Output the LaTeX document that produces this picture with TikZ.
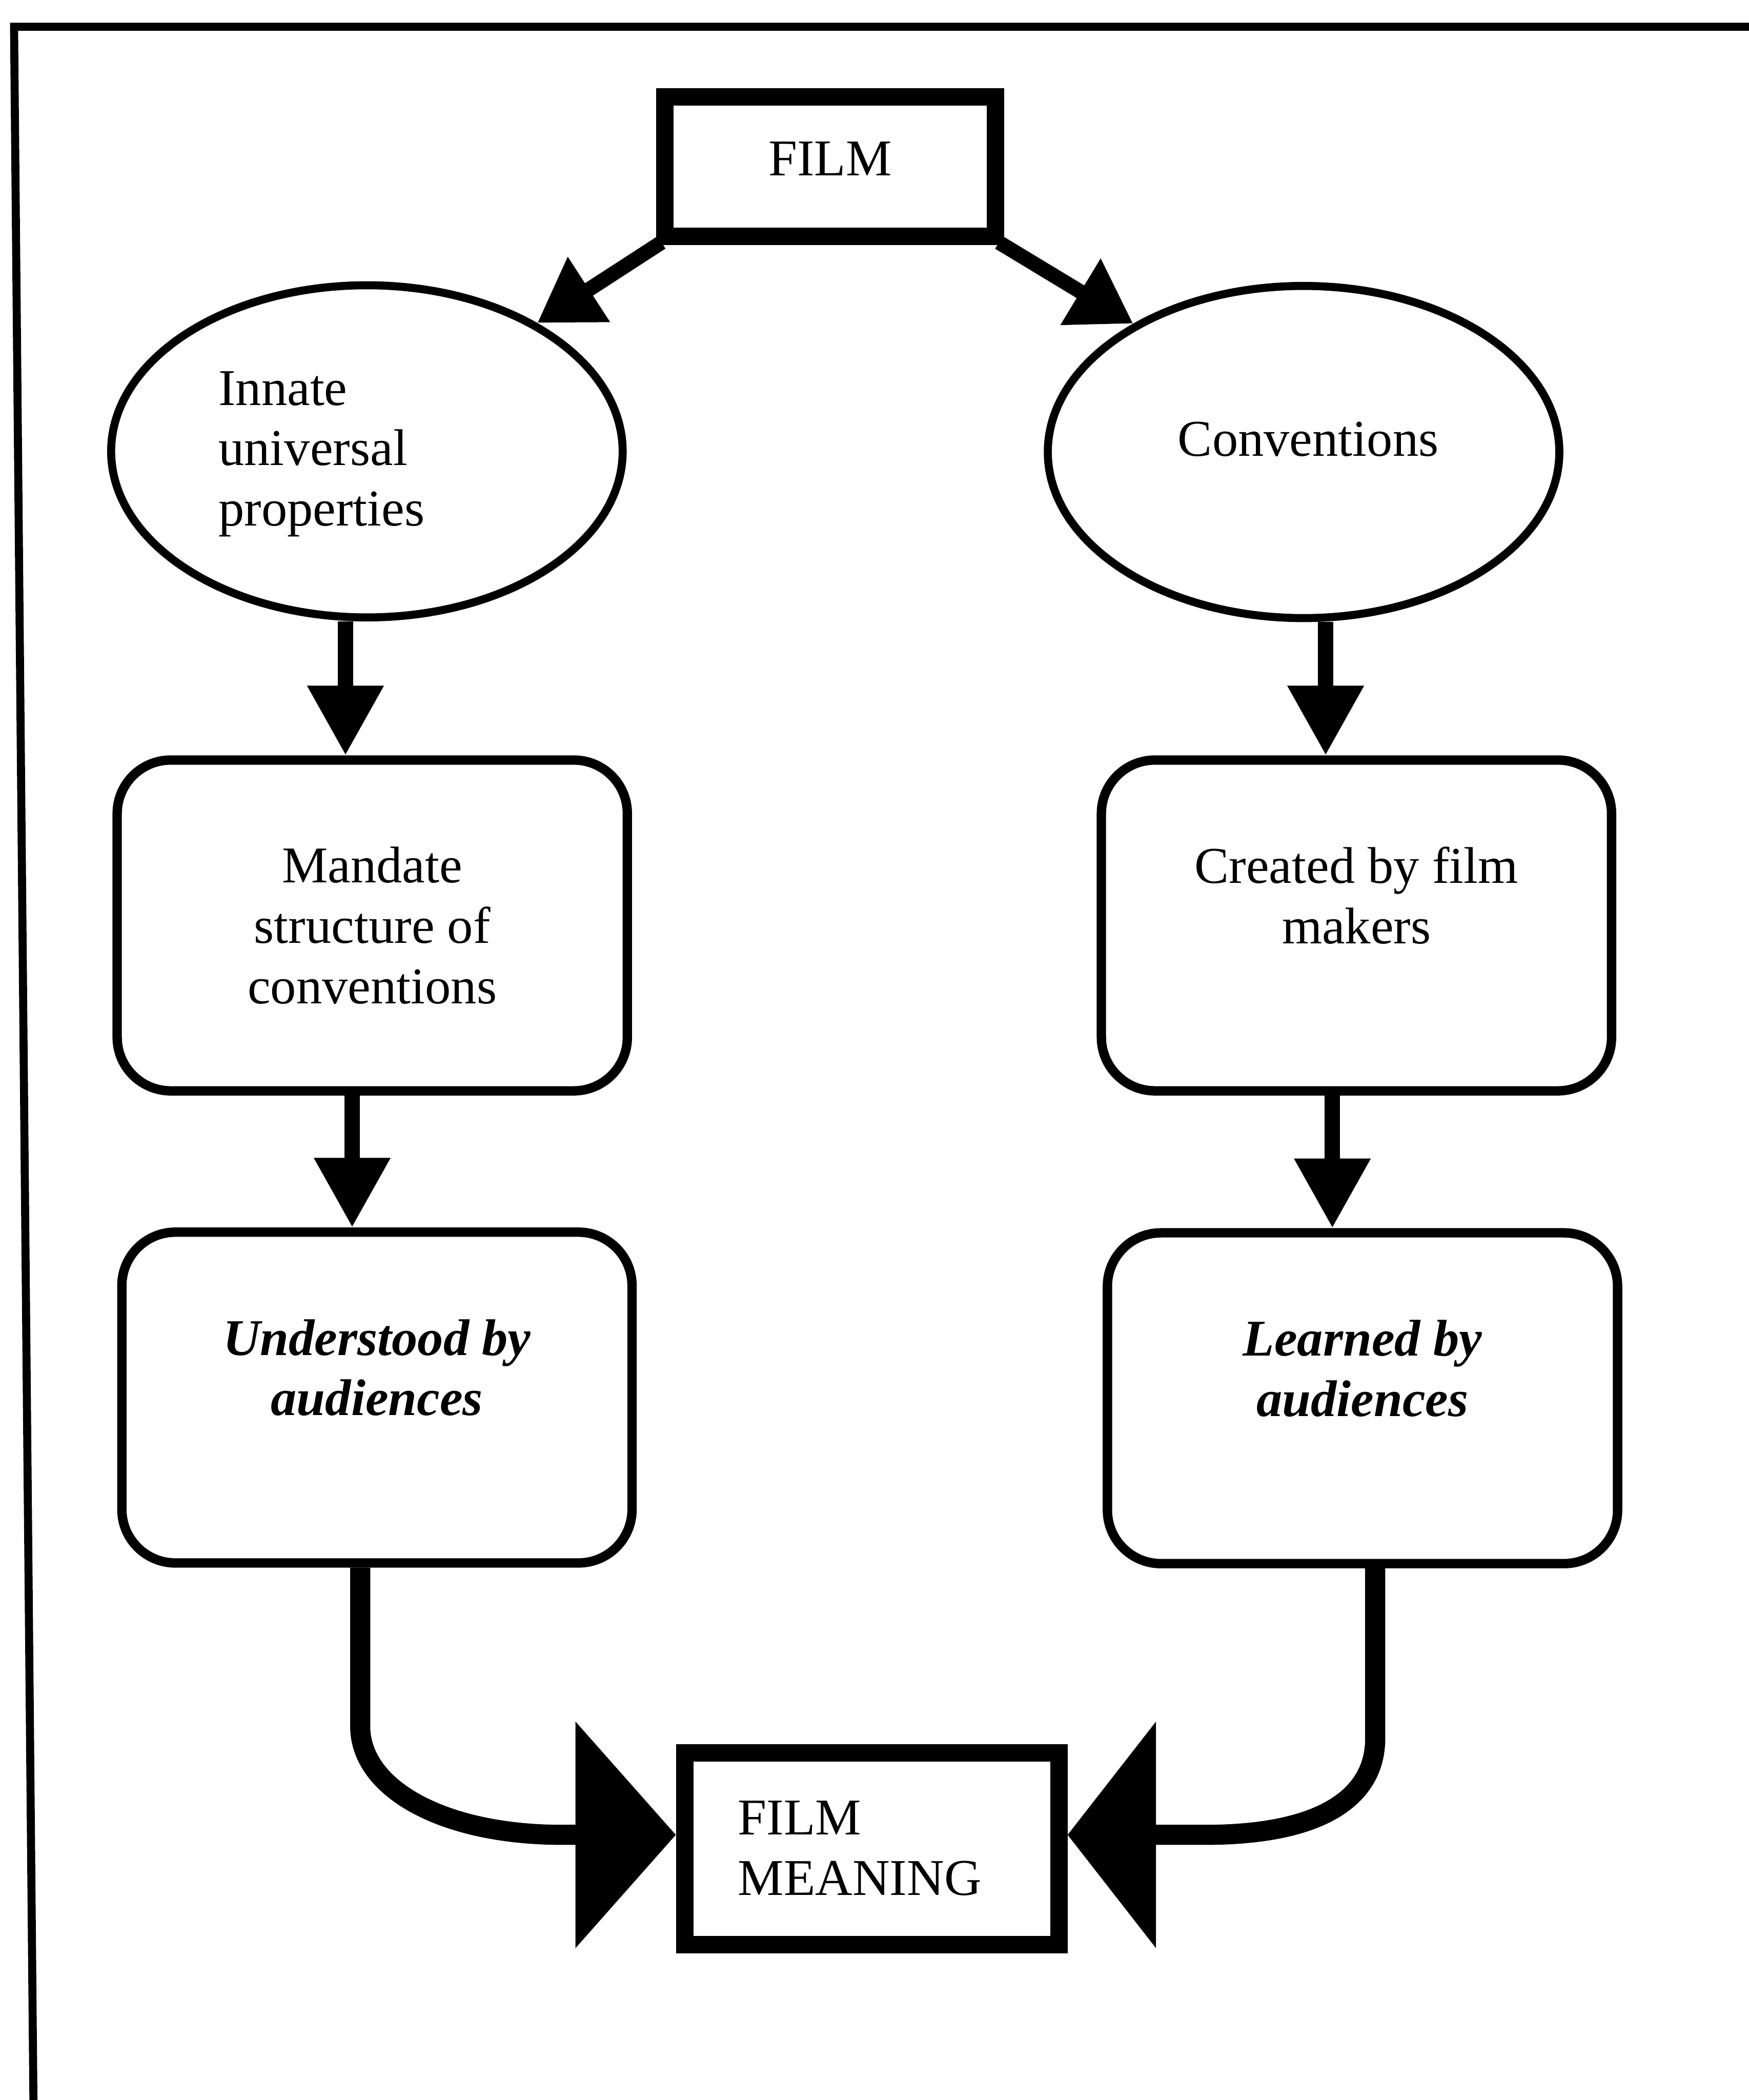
\documentclass[tikz,border=0pt]{standalone}
\usepackage{fontspec}
\setmainfont{Liberation Serif}
\usetikzlibrary{arrows.meta,shapes.geometric}
\newcommand{\diagfont}{\fontsize{38.5}{45}\selectfont}

\begin{document}
\begin{tikzpicture}[x=1pt,y=-1pt,
  every node/.style={font=\diagfont},
  ovalnode/.style={ellipse, draw, line width=6pt, minimum width=382pt, minimum height=248pt, inner sep=0pt},
  roundbox/.style={draw, rounded corners=40pt, line width=7pt, minimum width=381pt, minimum height=247pt, align=center, inner sep=0pt},
  squarebox/.style={draw, line width=13pt, inner sep=0pt},
  plaintext/.style={inner sep=0pt},
  shaftD/.style={line width=11pt, -{Triangle[length=46pt,width=55pt]}},
  shaftV/.style={line width=11.5pt, -{Triangle[length=52pt,width=54pt]}},
  shaftBL/.style={line width=15pt, -{Triangle[length=75pt,width=166pt]}},
  shaftBR/.style={line width=15pt, -{Triangle[length=66pt,width=166pt]}}]

% page and frame
\fill[white] (0,0) rectangle (1306,1568);
\useasboundingbox (0,0) rectangle (1306,1568);
\draw[line width=6pt, line join=miter] (1310,20) -- (10.5,20) -- (25,1572);

% top source
\node[squarebox, minimum width=247pt, minimum height=104pt, text depth=12pt] (film) at (620,124.5) {FILM};

% the two branches
\node[ovalnode] (innate) at (274,337) {};
\node[plaintext, anchor=west, align=left] (innate-txt) at (163,339) {Innate\\universal\\properties};
\node[ovalnode] (conv) at (973.5,337.5) {};
\node[plaintext] (conv-txt) at (977,328) {Conventions};

\node[roundbox] (mandate) at (278,691) {Mandate\\structure of\\conventions};
\node[roundbox] (created) at (1013,691) {Created by film\\makers\\\phantom{x}};

\node[roundbox, font=\diagfont\bfseries\itshape] (und) at (281.5,1043.5) {Understood by\\audiences\\\phantom{x}};
\node[roundbox, font=\diagfont\bfseries\itshape] (learned) at (1017.5,1044) {Learned by\\audiences\\\phantom{x}};

% result
\node[squarebox, minimum width=279.5pt, minimum height=143pt] (fm) at (651,1380.5) {};
\node[plaintext, anchor=west, align=left] (fm-txt) at (551,1380) {FILM\\MEANING};

% connector guides
\coordinate (xl1) at (258,0);
\coordinate (xl2) at (263,0);
\coordinate (xl3) at (269,0);
\coordinate (xr1) at (990,0);
\coordinate (xr2) at (995,0);
\coordinate (xr3) at (1027,0);
\coordinate (ymeet) at (0,1370);

% connectors
\draw[shaftD] ([xshift=4pt,yshift=2pt]film.south west) -- (innate.37);
\draw[shaftD] ([xshift=-4pt,yshift=2pt]film.south east) -- (conv.143);

\draw[shaftV] (innate.south -| xl1) -- (mandate.north -| xl1);
\draw[shaftV] (mandate.south -| xl2) -- (und.north -| xl2);
\draw[shaftV] (conv.south -| xr1) -- (created.north -| xr1);
\draw[shaftV] (created.south -| xr2) -- (learned.north -| xr2);

\draw[shaftBL] (und.south -| xl3) -- (269,1289) .. controls (269,1335) and (330,1370) .. (420,1370) -- (fm.west |- ymeet);
\draw[shaftBR] (learned.south -| xr3) -- (1027,1298) .. controls (1027,1340) and (990,1370) .. (900,1370) -- (fm.east |- ymeet);
\end{tikzpicture}
\end{document}
